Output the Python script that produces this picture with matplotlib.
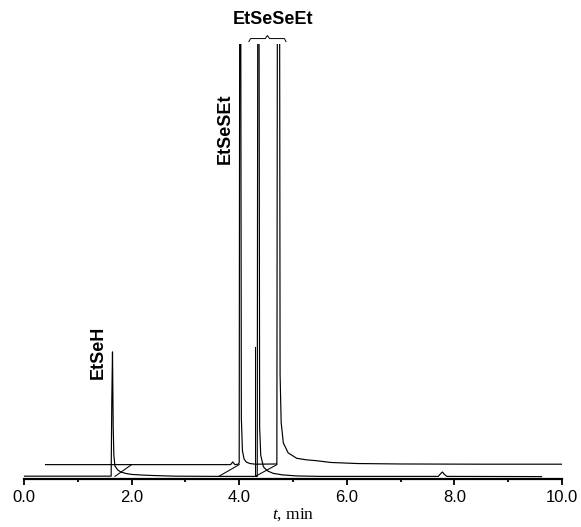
import matplotlib
matplotlib.use("Agg")
import matplotlib.pyplot as plt

plt.rcParams["font.family"] = ["Liberation Sans", "DejaVu Sans"]
plt.rcParams["mathtext.fontset"] = "custom"
plt.rcParams["mathtext.it"] = "Liberation Serif:italic"
plt.rcParams["mathtext.rm"] = "Liberation Serif"

# lower chromatogram (detector signal, axis top = 100, peaks run off scale)
lower_t = [0.0, 1.62, 1.632, 1.645, 1.658, 1.67, 1.69, 1.74, 1.80, 1.90, 2.00, 2.20,
           2.40, 2.80, 3.60, 4.335, 4.348, 4.365, 4.38, 4.40, 4.45, 4.52, 4.63, 4.80,
           5.07, 5.50, 7.70, 7.75, 7.78, 7.81, 7.86, 9.62]
lower_s = [0.65, 0.65, 18.0, 29.2, 12.0, 5.5, 3.0, 2.1, 1.6, 1.25, 1.05, 0.9,
           0.8, 0.65, 0.6, 0.6, 140.0, 140.0, 12.0, 5.5, 2.8, 1.9, 1.3, 0.95,
           0.7, 0.6, 0.6, 1.3, 1.6, 1.1, 0.6, 0.55]

# upper (offset) chromatogram
upper_t = [0.40, 3.84, 3.88, 3.92, 3.98, 4.00, 4.012, 4.025, 4.04, 4.06, 4.09,
           4.13, 4.20, 4.30, 4.70, 4.712, 4.748, 4.76, 4.78, 4.82, 4.91, 5.07,
           5.25, 5.44, 5.70, 6.20, 7.00, 8.50, 10.0]
upper_s = [3.3, 3.3, 3.9, 3.3, 3.4, 3.7, 140.0, 140.0, 14.0, 6.5, 4.6,
           3.9, 3.55, 3.4, 3.45, 140.0, 140.0, 24.0, 13.0, 8.3, 6.0, 4.75,
           4.4, 4.2, 3.8, 3.55, 3.45, 3.4, 3.4]

# drop lines joining the two traces and the integration mark
diag_t0 = [1.69, 3.62, 4.30]
diag_t1 = [2.00, 4.00, 4.70]
diag_s0 = 0.6
diag_s1 = 3.3
mark_t = 4.29
mark_top = 30.3

labels = ["EtSeH", "EtSeSEt"]
label_t = [1.375, 3.75]
label_s = [29.1, 80.4]

fig = plt.figure(figsize=(5.81, 5.27), dpi=100)
ax = fig.add_axes([0.0413, 0.0911, 0.926, 0.8258])

ax.plot(lower_t, lower_s, color="black", lw=0.85)
ax.plot(upper_t, upper_s, color="black", lw=0.85)
for a, b in zip(diag_t0, diag_t1):
    ax.plot([a, b], [diag_s0, diag_s1], color="black", lw=0.75)
ax.plot([mark_t, mark_t], [diag_s0, mark_top], color="black", lw=0.75)

for txt, x, y in zip(labels, label_t, label_s):
    ax.text(x, y, txt, rotation=90, ha="center", va="center",
            fontsize=13, fontweight="bold")

# brace over the two EtSeSeEt peaks
b0, b1, by = 4.18, 4.87, 101.2
bm = (b0 + b1) / 2
ax.plot([b0, b0 + 0.03, bm - 0.04, bm, bm + 0.04, b1 - 0.03, b1],
        [by - 0.7, by, by, by + 0.7, by, by, by - 0.7],
        color="black", lw=0.7, clip_on=False)
ax.text(4.63, 105.5, "EtSeSeEt", ha="center", va="center",
        fontsize=13, fontweight="bold")

ax.set_xlim(0, 10)
ax.set_ylim(0, 100)
for side in ["left", "right", "top"]:
    ax.spines[side].set_visible(False)
ax.spines["bottom"].set_linewidth(1.6)
ax.set_yticks([])
ax.set_xticks([0, 2, 4, 6, 8, 10])
ax.set_xticklabels(["0.0", "2.0", "4.0", "6.0", "8.0", "10.0"])
ax.set_xticks([1, 3, 5, 7, 9], minor=True)
ax.tick_params(axis="x", which="major", direction="out", length=4, width=1.3,
               labelsize=12, pad=4)
ax.tick_params(axis="x", which="minor", direction="out", length=2, width=1.3)
ax.set_xlabel("$t$, min", fontsize=12.5, labelpad=0.5, fontfamily="Liberation Serif")

fig.savefig("out.png", dpi=100)
